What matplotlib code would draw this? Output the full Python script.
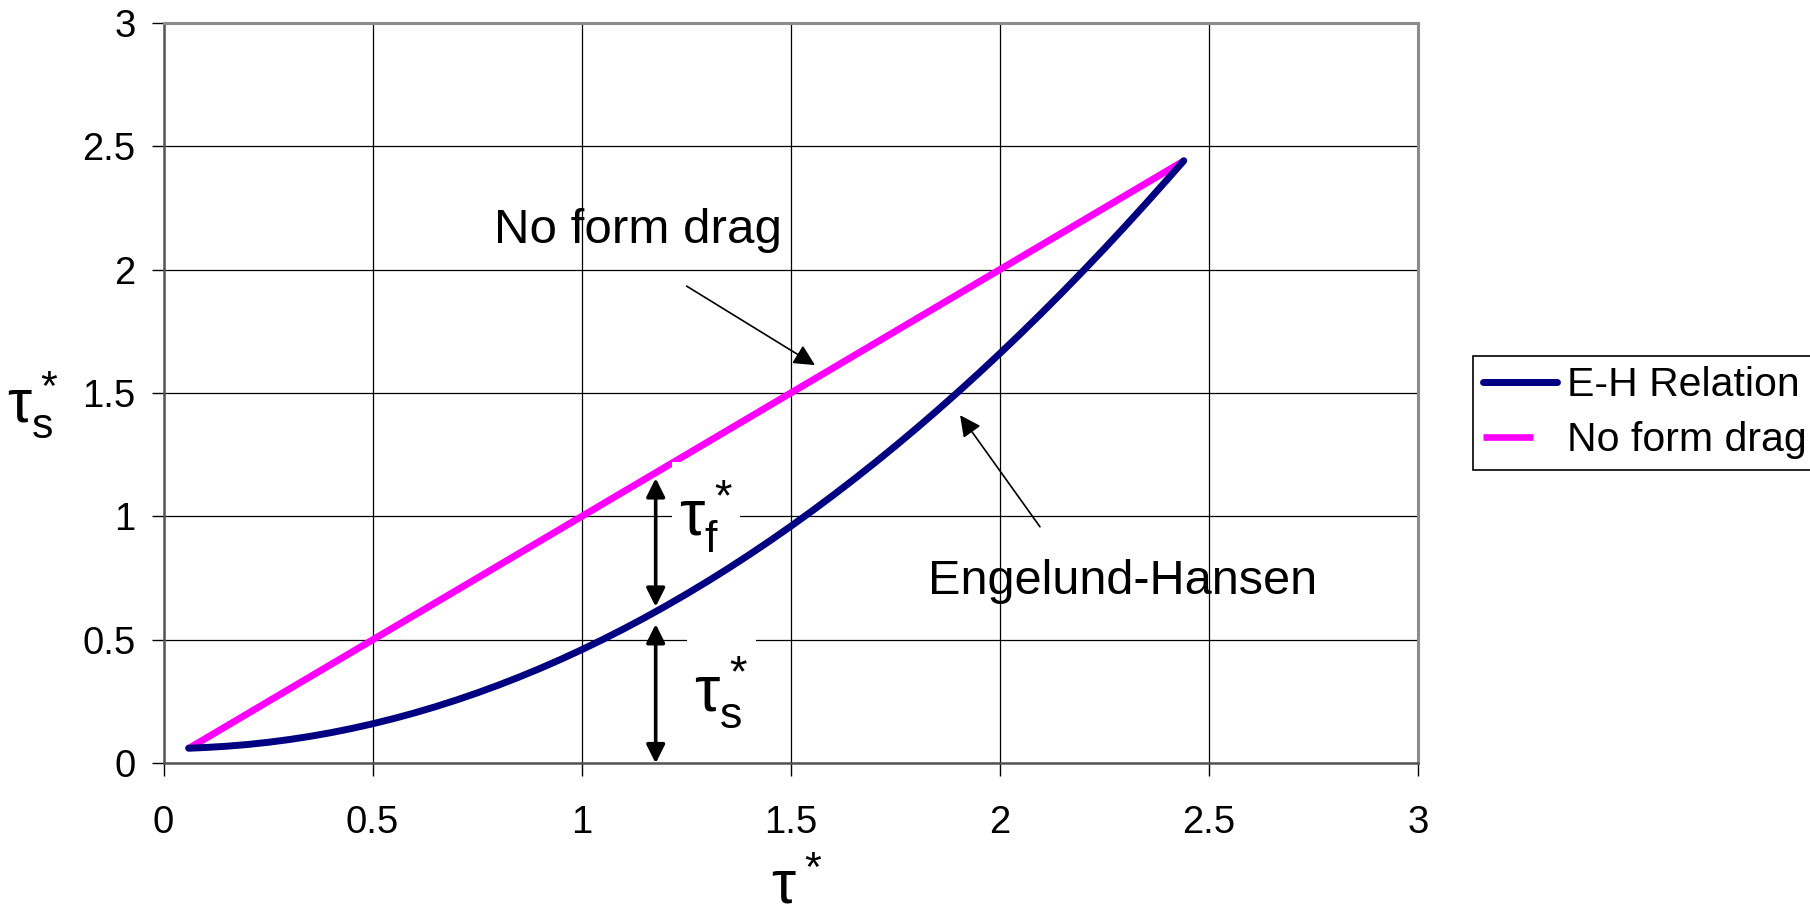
import matplotlib
matplotlib.use("Agg")
import matplotlib.pyplot as plt
from matplotlib.lines import Line2D
from matplotlib.patches import Rectangle

plt.rcParams['font.family'] = ['Liberation Sans', 'DejaVu Sans']
plt.rcParams['mathtext.fontset'] = 'custom'
plt.rcParams['mathtext.rm'] = 'Liberation Sans'
plt.rcParams['mathtext.it'] = 'Liberation Sans'
plt.rcParams['mathtext.bf'] = 'Liberation Sans:bold'

# ---- data ----
eh_x = [0.06, 0.1, 0.15, 0.2, 0.25, 0.3, 0.35, 0.4, 0.45, 0.5, 0.55, 0.6, 0.65,
        0.7, 0.75, 0.8, 0.85, 0.9, 0.95, 1.0, 1.05, 1.1, 1.15, 1.2, 1.25, 1.3,
        1.35, 1.4, 1.45, 1.5, 1.55, 1.6, 1.65, 1.7, 1.75, 1.8, 1.85, 1.9, 1.95,
        2.0, 2.05, 2.1, 2.15, 2.2, 2.25, 2.3, 2.35, 2.4, 2.44]
eh_y = [0.061, 0.064, 0.069, 0.076, 0.085, 0.096, 0.109, 0.124, 0.141, 0.160,
        0.181, 0.204, 0.229, 0.256, 0.285, 0.316, 0.349, 0.384, 0.421, 0.460,
        0.501, 0.544, 0.589, 0.636, 0.685, 0.736, 0.789, 0.844, 0.901, 0.960,
        1.021, 1.084, 1.149, 1.216, 1.285, 1.356, 1.429, 1.504, 1.581, 1.660,
        1.741, 1.824, 1.909, 1.996, 2.085, 2.176, 2.269, 2.364, 2.441]
nfd_x = [0.06, 2.44]
nfd_y = [0.06, 2.44]
x_ticks = [0, 0.5, 1, 1.5, 2, 2.5, 3]
y_ticks = [0, 0.5, 1, 1.5, 2, 2.5, 3]
x_tick_labels = ['0', '0.5', '1', '1.5', '2', '2.5', '3']
y_tick_labels = ['0', '0.5', '1', '1.5', '2', '2.5', '3']
series_names = ['E-H Relation', 'No form drag']

NAVY = '#000080'
MAGENTA = '#FF00FF'

fig = plt.figure(figsize=(18.1, 9.16), dpi=100)
ax = fig.add_axes([163.5 / 1810, 1 - 763.3 / 916, (1418 - 163.5) / 1810, (763.3 - 22.7) / 916])

ax.set_xlim(0, 3)
ax.set_ylim(0, 3)
ax.set_xticks(x_ticks)
ax.set_yticks(y_ticks)
ax.set_xticklabels(x_tick_labels)
ax.set_yticklabels(y_tick_labels)
ax.tick_params(axis='both', direction='out', length=9, width=1, color='black',
               labelsize=27.5)
ax.tick_params(axis='x', pad=21)
ax.tick_params(axis='y', pad=11)
ax.grid(True, color='black', linewidth=0.9)
ax.set_axisbelow(True)

for side in ['top', 'right']:
    ax.spines[side].set_color('#8c8c8c')
    ax.spines[side].set_linewidth(2.2)
for side in ['left', 'bottom']:
    ax.spines[side].set_color('#555555')
    ax.spines[side].set_linewidth(1.8)

ax.plot(nfd_x, nfd_y, color=MAGENTA, linewidth=5.0, solid_capstyle='butt', zorder=3)
ax.plot(eh_x, eh_y, color=NAVY, linewidth=5.0, solid_capstyle='round',
        solid_joinstyle='round', zorder=4)

# white label frames (as in the original drawing)
ax.add_patch(Rectangle((1.216, 0.864), 0.163, 0.355, facecolor='white',
                       edgecolor='none', zorder=3.5))
ax.add_patch(Rectangle((1.251, 0.11), 0.166, 0.507, facecolor='white',
                       edgecolor='none', zorder=3.5))

# annotations
ax.text(1.135, 2.16, 'No form drag', fontsize=35.5, ha='center', va='center', zorder=6)
ax.annotate('', xy=(1.558, 1.613), xytext=(1.251, 1.933), zorder=6,
            arrowprops=dict(arrowstyle='-|>', color='black', lw=1.2,
                            mutation_scale=32, shrinkA=0, shrinkB=0))
ax.annotate('', xy=(1.905, 1.41), xytext=(2.096, 0.958), zorder=6,
            arrowprops=dict(arrowstyle='-|>', color='black', lw=1.2,
                            mutation_scale=32, shrinkA=0, shrinkB=0))
ax.text(2.294, 0.735, 'Engelund-Hansen', fontsize=35, ha='center', va='center', zorder=6)

# double arrows
ax.annotate('', xy=(1.177, 1.155), xytext=(1.177, 0.634), zorder=6,
            arrowprops=dict(arrowstyle='<|-|>', color='black', lw=2.6,
                            mutation_scale=28, shrinkA=0, shrinkB=0))
ax.annotate('', xy=(1.177, 0.564), xytext=(1.177, 0.0), zorder=6,
            arrowprops=dict(arrowstyle='<|-|>', color='black', lw=2.6,
                            mutation_scale=28, shrinkA=0, shrinkB=0))

ax.text(1.297, 1.0, r'$\tau_f^*$', fontsize=46, ha='center', va='center', zorder=7)
ax.text(1.333, 0.29, r'$\tau_s^*$', fontsize=46, ha='center', va='center', zorder=7)

# axis labels
fig.text(33 / 1810, 1 - 405 / 916, r'$\tau_s^*$', fontsize=44, ha='center', va='center')
fig.text(797 / 1810, 1 - 888 / 916, r'$\tau^*$', fontsize=44, ha='center', va='center')

# legend
handles = [Line2D([0], [0], color=NAVY, linewidth=5, solid_capstyle='round'),
           Line2D([0], [0], color=MAGENTA, linewidth=4.8, linestyle=(0, (7.5, 20)),
                  dash_capstyle='butt')]
leg = fig.legend(handles, series_names, loc='upper left',
                 bbox_to_anchor=(1473 / 1810, 1 - 356 / 916),
                 bbox_transform=fig.transFigure, fontsize=29.5, frameon=True,
                 fancybox=False, edgecolor='black', framealpha=1,
                 handlelength=1.8, handletextpad=0.25, borderpad=0.25,
                 labelspacing=0.42, borderaxespad=0)
leg.get_frame().set_linewidth(1.2)

fig.savefig('out.png', dpi=100)
